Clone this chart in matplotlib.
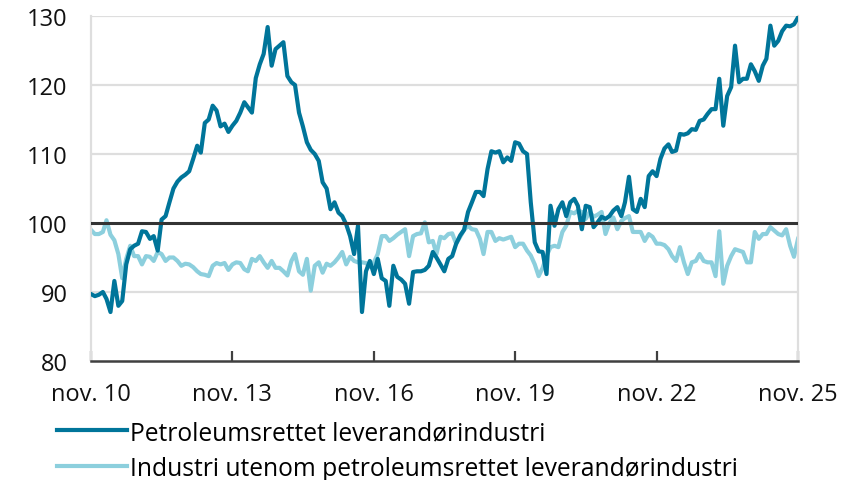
import numpy as np
import pandas as pd
import matplotlib
matplotlib.use("Agg")
import matplotlib.pyplot as plt

# Monthly index values, nov. 2010 - nov. 2025
petro = [
    89.7, 89.4, 89.6, 90.0, 89.0, 87.1, 91.6, 88.0, 88.7, 94.0,
    96.2, 96.7, 97.0, 98.8, 98.7, 97.7, 98.1, 96.0, 100.5, 101.0,
    103.0, 105.0, 106.0, 106.6, 107.0, 107.5, 109.3, 111.2, 110.2, 114.5,
    115.0, 117.0, 116.3, 114.0, 114.4, 113.2, 114.1, 114.8, 116.0, 117.5,
    116.8, 116.0, 121.0, 123.0, 124.5, 128.4, 122.8, 125.2, 125.7, 126.2,
    121.3, 120.4, 120.0, 116.0, 114.0, 111.7, 110.6, 110.0, 109.0, 105.9,
    105.0, 102.0, 103.0, 101.5, 101.0, 99.8, 98.1, 95.5, 99.6, 87.1,
    93.0, 94.5, 92.6, 94.8, 92.0, 91.6, 88.0, 93.8, 92.2, 91.8,
    91.2, 88.3, 92.9, 93.0, 93.0, 93.2, 93.8, 95.8, 95.0, 94.0,
    93.0, 94.8, 95.2, 97.0, 98.2, 99.0, 101.6, 103.0, 104.5, 104.5,
    103.9, 107.8, 110.4, 110.2, 110.4, 108.8, 109.5, 109.0, 111.7, 111.5,
    110.4, 110.0, 103.0, 97.2, 95.9, 95.8, 92.6, 102.5, 99.6, 102.0,
    103.0, 101.0, 103.0, 103.5, 102.5, 99.1, 102.5, 102.3, 99.4, 100.1,
    100.9, 100.6, 101.0, 101.8, 102.3, 101.0, 103.0, 106.7, 102.0, 101.6,
    103.5, 102.3, 106.8, 107.5, 106.8, 109.3, 110.8, 111.4, 110.3, 110.5,
    112.9, 112.8, 113.0, 113.6, 113.5, 114.8, 115.0, 115.8, 116.5, 116.5,
    120.9, 114.1, 118.4, 119.7, 125.7, 120.4, 120.9, 120.9, 123.0, 122.0,
    120.6, 122.8, 123.8, 128.6, 125.7, 126.4, 127.8, 128.6, 128.5, 128.8,
    129.8,
]

industri = [
    99.0, 98.4, 98.4, 98.7, 100.4, 98.3, 97.5, 95.5, 92.0, 94.8,
    96.7, 95.2, 95.2, 94.0, 95.2, 95.1, 94.5, 95.8, 95.5, 94.5,
    95.0, 95.0, 94.5, 93.8, 94.1, 94.0, 93.6, 93.0, 92.6, 92.5,
    92.3, 93.8, 94.2, 94.0, 94.2, 93.2, 94.0, 94.3, 94.2, 93.3,
    93.0, 94.8, 94.5, 95.2, 94.3, 93.5, 94.5, 93.5, 93.5, 93.0,
    92.4, 94.5, 95.5, 93.0, 92.5, 94.8, 90.2, 93.8, 94.3, 92.8,
    94.1, 93.8, 94.3, 95.0, 95.8, 94.0, 95.1, 94.5, 94.3, 94.3,
    94.2, 93.6, 94.3, 95.5, 98.1, 98.1, 97.4, 97.8, 98.3, 98.7,
    99.1, 95.2, 98.1, 98.4, 98.5, 100.1, 97.2, 97.4, 95.5, 98.0,
    97.8, 98.4, 98.5, 97.0, 98.0, 99.0, 99.6, 99.1, 99.0, 97.7,
    95.5, 98.7, 98.7, 97.4, 97.8, 97.6, 97.8, 98.0, 96.5, 97.0,
    97.0, 96.0, 95.3, 94.0, 92.3, 93.5, 95.2, 96.5, 96.7, 96.5,
    98.7, 99.6, 101.6, 101.4, 101.8, 101.6, 100.6, 101.6, 100.9, 101.2,
    101.6, 98.4, 100.0, 100.8, 99.1, 100.3, 100.7, 101.0, 98.7, 98.7,
    98.7, 97.4, 98.4, 98.0, 97.0, 97.0, 96.8, 96.2, 95.2, 94.5,
    96.5, 94.3, 92.6, 94.3, 94.5, 95.5, 94.5, 94.3, 94.3, 92.3,
    98.8, 91.2, 93.8, 95.2, 96.2, 96.0, 95.8, 94.3, 94.3, 98.7,
    97.7, 98.4, 98.4, 99.4, 98.9, 98.4, 98.2, 99.1, 96.7, 95.1,
    97.7,
]

series_labels = ["Petroleumsrettet leverandørindustri",
                 "Industri utenom petroleumsrettet leverandørindustri"]
xtick_dates = ["2010-11-01", "2013-11-01", "2016-11-01",
               "2019-11-01", "2022-11-01", "2025-11-01"]
xtick_labels = ["nov. 10", "nov. 13", "nov. 16", "nov. 19", "nov. 22", "nov. 25"]
yticks = [80, 90, 100, 110, 120, 130]
grid_levels = [90, 110, 120, 130]
ref_level = 100

dates = pd.date_range("2010-11-01", periods=len(petro), freq="MS")

plt.rcParams['font.family'] = ['Open Sans', 'DejaVu Sans']
FS_TICK = 17
FS_LEG = 17.7
DARK = '#00759a'
LIGHT = '#8ccfdd'

W, H = 844, 481
fig = plt.figure(figsize=(W / 100, H / 100), dpi=100)
ax = fig.add_axes([91 / W, 1 - 362 / H, (798 - 91) / W, (362 - 17) / H])

ax.set_ylim(80, 130)
ax.set_xlim(dates[0], dates[-1])

for lvl in grid_levels:
    ax.axhline(lvl, color='#dedede', lw=1.6, zorder=1)

ax.plot(dates, industri, color=LIGHT, lw=3.0, zorder=2, label=series_labels[1],
        solid_joinstyle='round')
ax.plot(dates, petro, color=DARK, lw=3.0, zorder=3, label=series_labels[0],
        solid_joinstyle='round')
ax.axhline(ref_level, color='#333333', lw=2.2, zorder=4)

ax.set_yticks(yticks)
ax.set_yticklabels([str(v) for v in yticks])
ax.set_xticks(pd.to_datetime(xtick_dates))
ax.set_xticklabels(xtick_labels)

ax.tick_params(axis='y', length=0, pad=17, labelsize=FS_TICK, labelcolor='#111111')
ax.tick_params(axis='x', direction='in', length=7, width=1.6, color='#404040',
               pad=15, labelsize=FS_TICK, labelcolor='#111111')

for side in ['left', 'right']:
    ax.spines[side].set_color('#dedede')
    ax.spines[side].set_linewidth(1.6)
ax.spines['top'].set_visible(False)
ax.spines['bottom'].set_color('#404040')
ax.spines['bottom'].set_linewidth(1.8)
ax.spines['bottom'].set_zorder(5)

handles, labels = ax.get_legend_handles_labels()
order = [1, 0]
leg = fig.legend([handles[i] for i in order], [labels[i] for i in order],
                 loc='upper left', bbox_to_anchor=(57 / W, 1 - 421 / H),
                 frameon=False, fontsize=FS_LEG, borderpad=0, borderaxespad=0,
                 handlelength=2.85, handletextpad=0.12, labelspacing=0.45)

fig.savefig("out.png", dpi=100)
